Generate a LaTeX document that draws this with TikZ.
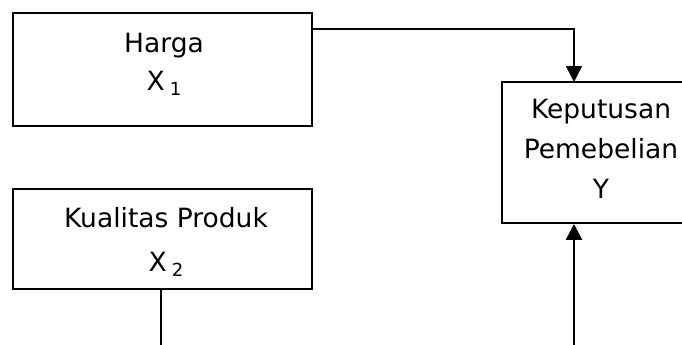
\documentclass[tikz,border=0pt]{standalone}
\usepackage{fontspec}
\setmainfont{DejaVu Sans}
\usetikzlibrary{arrows.meta}
\newcommand{\subidx}[1]{\hspace{5pt}\raisebox{-5pt}{\fontsize{18}{18}\selectfont #1}}
\begin{document}
\begin{tikzpicture}[x=1pt,y=-1pt,
  box/.style={draw, line width=1.9pt, inner sep=0pt},
  lbl/.style={align=center, anchor=base, inner sep=0pt,
              font=\fontsize{26.5}{40}\selectfont},
  link/.style={line width=1.6pt},
  tip/.style={-{Triangle[length=16pt,width=16pt]}}]
\useasboundingbox (0,0) rectangle (682,345);
% boxes
\node[box, minimum width=299pt, minimum height=113pt] (harga) at (162.5,69.5) {};
\node[box, minimum width=299pt, minimum height=100pt] (kualitas) at (162.5,239) {};
\node[box, minimum width=198pt, minimum height=141pt] (kep) at (601,152.5) {};
% labels (anchored at the baseline of the last line)
\node[lbl, font=\fontsize{26.5}{38}\selectfont] (hargat) at (164,90) {Harga\\X\subidx{1}};
\node[lbl, font=\fontsize{26.5}{44}\selectfont] (kualitast) at (166,271) {Kualitas Produk\\X\subidx{2}};
\node[lbl] (kept) at (601,198) {Keputusan\\Pemebelian\\Y};
% connectors
\coordinate (hout) at (312,29);
\coordinate (kin) at (574,82);
\coordinate (kbot) at (574,345);
\coordinate (qbot) at (161,345);
\draw[link, tip] (hout) -| (kin);
\draw[link, tip, line width=2.6pt] (kbot) -- (kbot |- kep.south);
\draw[link] (qbot |- kualitas.south) -- (qbot);
\end{tikzpicture}
\end{document}
